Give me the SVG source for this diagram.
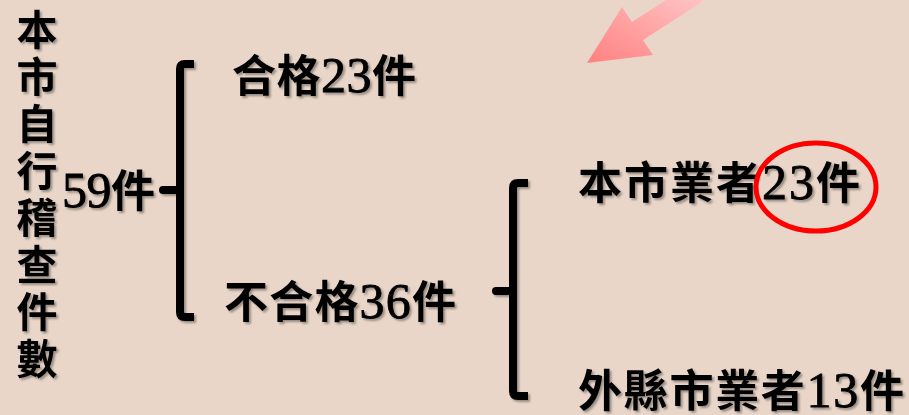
<svg xmlns="http://www.w3.org/2000/svg" width="909" height="415" viewBox="0 0 909 415">
<defs>
<style>
.t{font-family:"Liberation Serif","Noto Sans CJK TC",serif;font-size:44px;fill:#000;font-weight:bold}
.d{font-size:50px;font-weight:normal;stroke:#000;stroke-width:0.8}
.v{font-family:"Noto Sans CJK TC",sans-serif;font-size:41px;font-weight:bold;text-anchor:middle;fill:#000}
.br{fill:none;stroke:#000;stroke-width:8;stroke-linejoin:round}
.tk{fill:none;stroke:#000;stroke-width:8;stroke-linecap:round}
</style>
<filter id="sh" x="-10%" y="-10%" width="130%" height="130%">
<feDropShadow dx="2" dy="2" stdDeviation="1" flood-color="#000" flood-opacity="0.35"/>
</filter>
<linearGradient id="ag" x1="0" y1="1" x2="1" y2="0">
<stop offset="0" stop-color="#FF8080"/>
<stop offset="1" stop-color="#FFC4C4"/>
</linearGradient>
</defs>
<rect width="909" height="415" fill="#E9D6C9"/>
<g id="arrow">
<polygon points="587,63 622,7 632,22 666,0 705,0 643,40 653,55" fill="url(#ag)"/>
</g>
<g id="title" filter="url(#sh)">
<text class="v" x="37" y="45">本</text>
<text class="v" x="37" y="92">市</text>
<text class="v" x="37" y="139">自</text>
<text class="v" x="37" y="186">行</text>
<text class="v" x="37" y="233">稽</text>
<text class="v" x="37" y="280">查</text>
<text class="v" x="37" y="327">件</text>
<text class="v" x="37" y="374">數</text>
</g>
<g id="total" filter="url(#sh)">
<text class="t" x="62" y="207" textLength="93" lengthAdjust="spacing"><tspan class="d">59</tspan>件</text>
</g>
<g id="pass" filter="url(#sh)">
<text class="t" x="232" y="92" textLength="184" lengthAdjust="spacing">合格<tspan class="d">23</tspan>件</text>
</g>
<g id="fail" filter="url(#sh)">
<text class="t" x="224" y="318" textLength="232" lengthAdjust="spacing">不合格<tspan class="d">36</tspan>件</text>
</g>
<g id="local" filter="url(#sh)">
<text class="t" x="578" y="199" textLength="282" lengthAdjust="spacing">本市業者<tspan class="d">23</tspan>件</text>
</g>
<g id="other" filter="url(#sh)">
<text class="t" x="578" y="407" textLength="326" lengthAdjust="spacing">外縣市業者<tspan class="d">13</tspan>件</text>
</g>
<g id="highlight">
<ellipse cx="816" cy="187" rx="60" ry="44" fill="none" stroke="#FF0000" stroke-width="5"/>
</g>
<g id="connectors" filter="url(#sh)">
<path class="br" d="M194,64 H185 Q180,64 180,69 V312 Q180,317 185,317 H194"/>
<path class="tk" d="M180,190 H163"/>
<path class="br" d="M528,183 H518 Q513,183 513,188 V391 Q513,396 518,396 H528"/>
<path class="tk" d="M513,291 H496"/>
</g>
</svg>
